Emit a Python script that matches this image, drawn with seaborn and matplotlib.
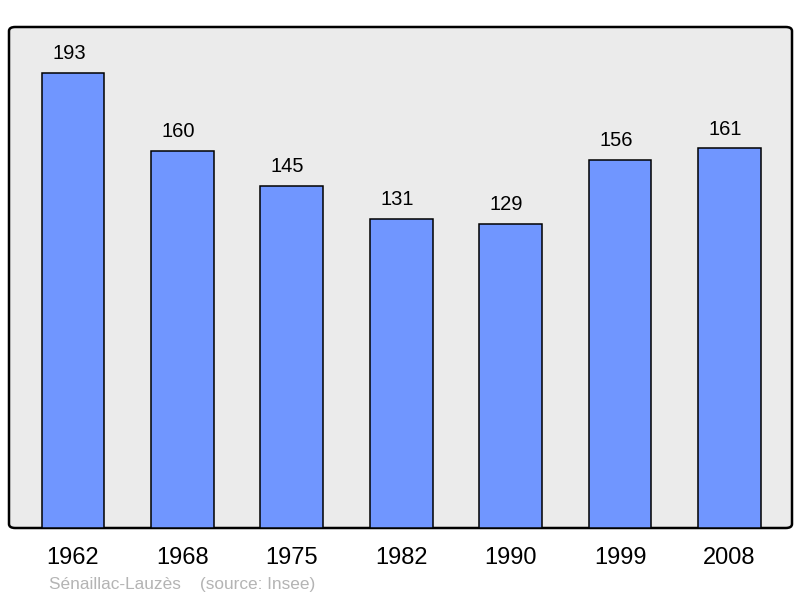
import matplotlib
matplotlib.use("Agg")
import matplotlib.pyplot as plt
import seaborn as sns
import pandas as pd
from matplotlib.patches import FancyBboxPatch

years = ["1962", "1968", "1975", "1982", "1990", "1999", "2008"]
population = [193, 160, 145, 131, 129, 156, 161]
caption = "Sénaillac-Lauzès    (source: Insee)"

df = pd.DataFrame({"year": years, "pop": population})

sns.set_theme(style="white")
plt.rcParams["font.family"] = ["Liberation Sans", "DejaVu Sans"]

fig = plt.figure(figsize=(8, 5.98), dpi=100)
ax = fig.add_axes([9/800, 1-528/598, (792-9)/800, (528-27)/598])
ax.set_facecolor("none")

bg = FancyBboxPatch((0, 0), 1, 1, boxstyle="round,pad=0,rounding_size=0.008",
                    transform=ax.transAxes, facecolor="#ebebeb", edgecolor="black",
                    linewidth=1.8, zorder=0, clip_on=False)
ax.add_patch(bg)

sns.barplot(data=df, x="year", y="pop", ax=ax, color="#7096ff", saturation=1,
            width=0.575, edgecolor="black", linewidth=1.1, zorder=2)

for c in ax.containers:
    for bar, val in zip(c.patches, population):
        ax.annotate(str(val), (bar.get_x() + bar.get_width() / 2, bar.get_height()),
                    xytext=(-3, 7), textcoords="offset points",
                    ha="center", va="bottom", fontsize=14.5, color="black")

ax.set_xlim(-0.585, 6.572)
ax.set_ylim(0, 212.5)
ax.set_yticks([])
ax.set_xlabel("")
ax.set_ylabel("")
for s in ax.spines.values():
    s.set_visible(False)
ax.tick_params(axis="x", length=0, labelsize=17, pad=14, colors="black")

fig.text(49/800, 1-585/598, caption, fontsize=12.4, color="#b4b4b4", va="center", ha="left")

fig.savefig("out.png", dpi=100, facecolor="white")
